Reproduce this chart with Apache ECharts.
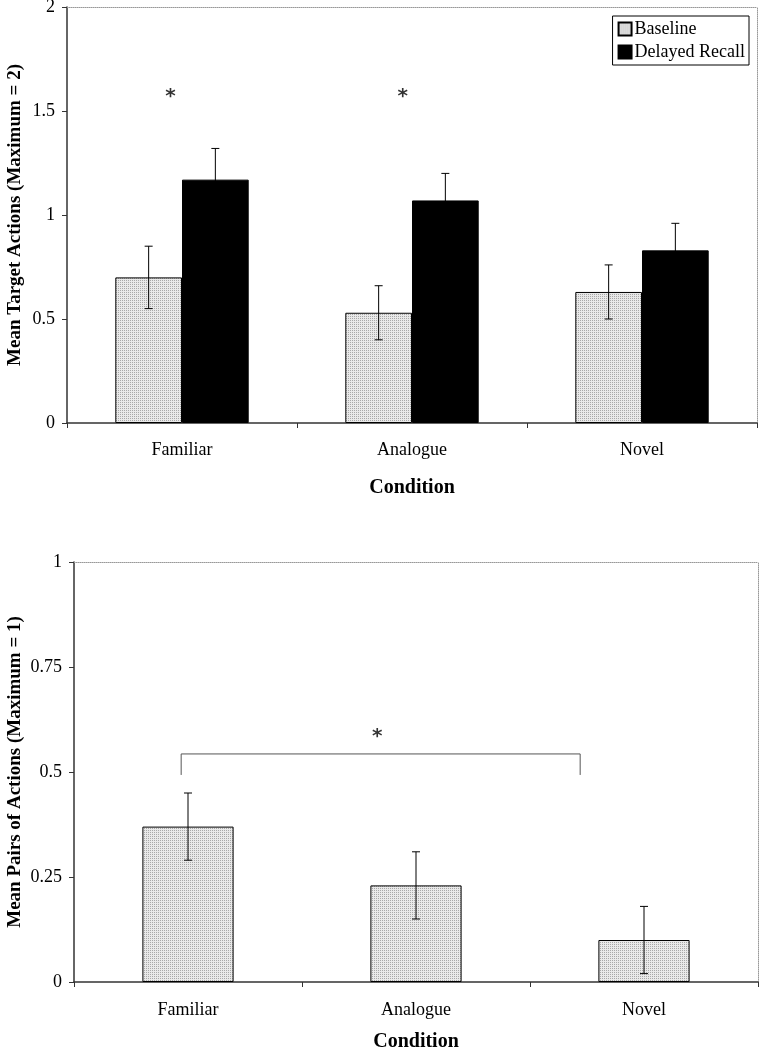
<!DOCTYPE html>
<html>
<head>
<meta charset="utf-8">
<script src="https://cdn.jsdelivr.net/npm/echarts@6/dist/echarts.min.js"></script>
<style>
  html, body { margin: 0; padding: 0; background: #fff; }
  #chart { width: 759px; height: 1050px; }
</style>
</head>
<body>
<div id="chart"></div>
<script>
// data
const conditions = ['Familiar', 'Analogue', 'Novel']
const baselineMean = [0.70, 0.53, 0.63]
const baselineErr = [0.15, 0.13, 0.13]
const recallMean = [1.17, 1.07, 0.83]
const recallErr = [0.15, 0.13, 0.13]
const pairsMean = [0.37, 0.23, 0.10]
const pairsErr = [0.08, 0.08, 0.08]
// significance marks (x in category units, y in data units)
const topStars = [[-0.05, 1.57], [0.96, 1.57]]
const bracket = [[-0.03, 0.493], [-0.03, 0.543], [1.72, 0.543], [1.72, 0.493]]
const bottomStar = [[0.83, 0.585]]

const serif = 'Liberation Serif'

// dotted grey fill like the original
function dotPattern () {
  const c = document.createElement('canvas')
  c.width = 2; c.height = 2
  const g = c.getContext('2d')
  g.fillStyle = '#e9e9e9'
  g.fillRect(0, 0, 2, 2)
  g.fillStyle = '#a8a8a8'
  g.fillRect(0, 0, 1, 1)
  return c
}
const pattern = { image: dotPattern(), repeat: 'repeat' }

function errData (mean, err) {
  return mean.map((m, i) => [i, m - err[i], m + err[i]])
}

function errRender (shift) {
  return function (params, api) {
    const band = api.size([1, 0])[0]
    const lo = api.coord([api.value(0), api.value(1)])
    const hi = api.coord([api.value(0), api.value(2)])
    const x = lo[0] + shift * band
    const cap = 4
    const st = { stroke: '#000', lineWidth: 1 }
    return {
      type: 'group',
      children: [
        { type: 'line', shape: { x1: x, y1: lo[1], x2: x, y2: hi[1] }, style: st },
        { type: 'line', shape: { x1: x - cap, y1: hi[1], x2: x + cap, y2: hi[1] }, style: st },
        { type: 'line', shape: { x1: x - cap, y1: lo[1], x2: x + cap, y2: lo[1] }, style: st }
      ]
    }
  }
}

const dotted = { show: true, onZero: false, lineStyle: { color: '#999', type: 'dotted', width: 1 } }

function catAxis (gi, margin, gap) {
  return {
    type: 'category', gridIndex: gi, data: conditions,
    name: 'Condition', nameLocation: 'middle', nameGap: gap,
    nameTextStyle: { fontFamily: serif, fontWeight: 'bold', fontSize: 20, color: '#000' },
    axisLine: { onZero: false, lineStyle: { color: '#333', width: 1.5 } },
    axisTick: { show: true, length: 5, lineStyle: { color: '#333' } },
    axisLabel: { fontFamily: serif, fontSize: 18, color: '#000', margin: margin }
  }
}
function topAxis (gi) {
  return {
    type: 'value', gridIndex: gi, position: 'top', min: -0.5, max: 2.5,
    axisLine: dotted, axisTick: { show: false }, axisLabel: { show: false }, splitLine: { show: false }
  }
}
function valAxis (gi, max, step, name, gap) {
  return {
    type: 'value', gridIndex: gi, min: 0, max: max, interval: step,
    name: name, nameLocation: 'middle', nameGap: gap, nameMoveOverlap: false,
    nameTextStyle: { fontFamily: serif, fontWeight: 'bold', fontSize: 19, color: '#000' },
    axisLine: { show: true, onZero: false, lineStyle: { color: '#333', width: 1.5 } },
    axisTick: { show: true, length: 5, lineStyle: { color: '#333' } },
    axisLabel: { fontFamily: serif, fontSize: 18, color: '#000', margin: 12 },
    splitLine: { show: false }
  }
}
function rightAxis (gi, max) {
  return {
    type: 'value', gridIndex: gi, position: 'right', min: 0, max: max,
    axisLine: dotted, axisTick: { show: false }, axisLabel: { show: false }, splitLine: { show: false }
  }
}

function starSeries (xi, yi, data) {
  return {
    type: 'scatter', xAxisIndex: xi, yAxisIndex: yi, data: data,
    symbolSize: 1, itemStyle: { color: 'transparent' }, silent: true,
    label: { show: true, formatter: '*', position: 'inside', fontSize: 20, fontWeight: 'bold', color: '#000', fontFamily: 'DejaVu Sans' }
  }
}

const myChart = echarts.init(document.getElementById('chart'))
const option = {
  backgroundColor: '#fff',
  animation: false,
  grid: [
    { left: 67, top: 7, right: 2, height: 416, outerBoundsMode: 'none', containLabel: false },
    { left: 74, top: 562, right: 1, height: 420, outerBoundsMode: 'none', containLabel: false }
  ],
  legend: {
    right: 10, top: 16, orient: 'vertical',
    data: ['Baseline', 'Delayed Recall'],
    backgroundColor: '#fff', borderColor: '#000', borderWidth: 1,
    padding: [4, 4, 4, 5], itemGap: 5, itemWidth: 13, itemHeight: 13,
    icon: 'rect',
    textStyle: { fontFamily: serif, fontSize: 18, color: '#000', padding: [0, 0, 0, -2] }
  },
  xAxis: [catAxis(0, 18, 55), topAxis(0), catAxis(1, 19, 50), topAxis(1)],
  yAxis: [
    valAxis(0, 2, 0.5, 'Mean Target Actions (Maximum = 2)', 42),
    rightAxis(0, 2),
    valAxis(1, 1, 0.25, 'Mean Pairs of Actions (Maximum = 1)', 49),
    rightAxis(1, 1)
  ],
  series: [
    {
      name: 'Baseline', type: 'bar', xAxisIndex: 0, yAxisIndex: 0, data: baselineMean,
      barGap: 0, barCategoryGap: '42%',
      itemStyle: { color: pattern, borderColor: '#000', borderWidth: 1 }
    },
    {
      name: 'Delayed Recall', type: 'bar', xAxisIndex: 0, yAxisIndex: 0, data: recallMean,
      itemStyle: { color: '#000', borderColor: '#000', borderWidth: 1 }
    },
    {
      type: 'custom', xAxisIndex: 0, yAxisIndex: 0, data: errData(baselineMean, baselineErr),
      renderItem: errRender(-0.145), encode: { x: 0, y: [1, 2] }, z: 5, silent: true
    },
    {
      type: 'custom', xAxisIndex: 0, yAxisIndex: 0, data: errData(recallMean, recallErr),
      renderItem: errRender(0.145), encode: { x: 0, y: [1, 2] }, z: 5, silent: true
    },
    starSeries(1, 0, topStars),
    {
      type: 'bar', xAxisIndex: 2, yAxisIndex: 2, data: pairsMean,
      barCategoryGap: '60%',
      itemStyle: { color: pattern, borderColor: '#000', borderWidth: 1 }
    },
    {
      type: 'custom', xAxisIndex: 2, yAxisIndex: 2, data: errData(pairsMean, pairsErr),
      renderItem: errRender(0), encode: { x: 0, y: [1, 2] }, z: 5, silent: true
    },
    {
      type: 'line', xAxisIndex: 3, yAxisIndex: 2, data: bracket, symbol: 'none', silent: true,
      lineStyle: { color: '#555', width: 1 }
    },
    starSeries(3, 2, bottomStar)
  ]
}
myChart.setOption(option)
window.addEventListener('resize', function () {
  myChart.resize()
})
</script>
</body>
</html>
